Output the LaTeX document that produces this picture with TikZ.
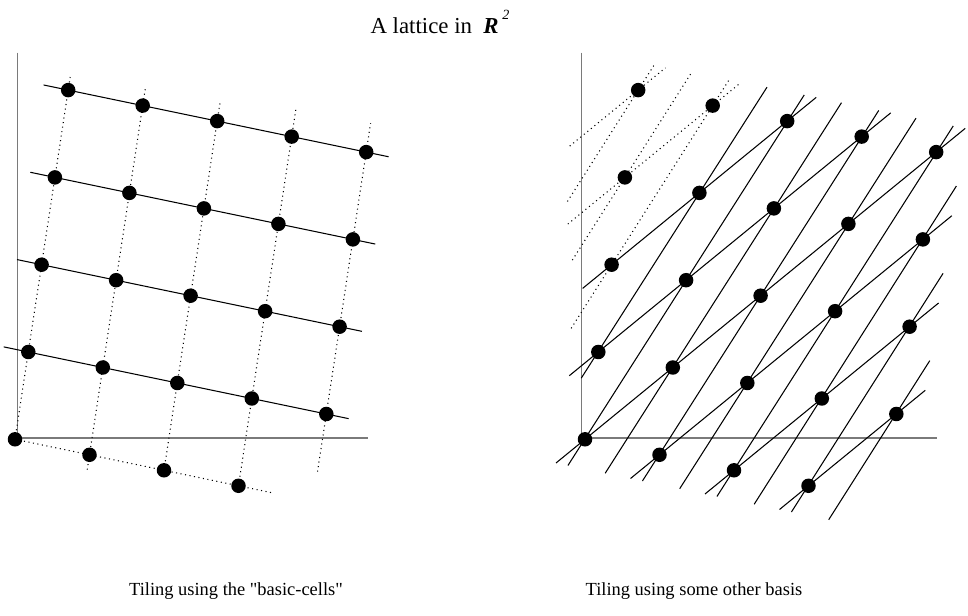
\documentclass[tikz,border=0pt]{standalone}
\usepackage{fontspec}
\setmainfont{Liberation Serif}
\usepackage{tikz}
\definecolor{latAxis}{HTML}{7A7A7A}
\tikzset{
  latpt/.style={
    circle,
    fill=black,
    inner sep=0pt,
    minimum size=0.29cm
  },
  latline/.style={line width=0.6pt, draw=black},
  latdots/.style={line width=0.6pt, draw=black, dotted},
  axisline/.style={line width=0.8pt, draw=latAxis},
  caption/.style={font=\fontsize{10.5}{12}\selectfont, inner sep=0pt},
  heading/.style={font=\fontsize{13}{15}\selectfont, inner sep=0pt}
}

\begin{document}
\begin{tikzpicture}
  \useasboundingbox (0,0) rectangle (19.36,12.32);
  % axes
  \draw[axisline] (0.346,11.266) -- (0.346,3.56) -- (7.366,3.56);
  \draw[axisline] (11.634,11.266) -- (11.634,3.56) -- (18.734,3.56);
  % left lattice, basic cells
  \begin{scope}[shift={(0.30,3.534)}, x={(1.49cm,-0.31cm)}, y={(0.266cm,1.746cm)}]
    \foreach \t in {1,...,4}
      \draw[latline] (-0.33,\t) -- (4.3,\t);
    \draw[latdots] (0,0) -- (3.45,0);
    \foreach \s/\lo/\hi in {0/0/4.15, 1/-0.17/4.22, 2/0/4.24, 3/0/4.34, 4/0.34/4.33}
      \draw[latdots] (\s,\lo) -- (\s,\hi);
    \foreach \n in {0,...,3}
      \node[latpt] (L-0-\n) at (\n,0) {};
    \foreach \m in {1,...,4}
      \foreach \n in {0,...,4}
        \node[latpt] (L-\m-\n) at (\n,\m) {};
  \end{scope}
  % right lattice, other basis
  \begin{scope}[shift={(11.70,3.534)}, x={(1.49cm,-0.31cm)}, y={(0.266cm,1.746cm)}]
    % along a+b
    \foreach \sa/\ta/\sb/\tb in {-0.33/-0.33/4.33/4.33, 0.67/-0.33/4.33/3.33,
        1.67/-0.33/4.33/2.33, 2.67/-0.33/4.33/1.33,
        -0.33/0.67/3.33/4.33, -0.33/1.67/2.33/4.33}
      \draw[latline] (\sa,\ta) -- (\sb,\tb);
    \foreach \sa/\ta/\sb/\tb in {-0.65/2.35/1.31/4.31, -0.78/3.22/0.31/4.31}
      \draw[latdots] (\sa,\ta) -- (\sb,\tb);
    % along a+2b
    \foreach \sa/\ta/\sb/\tb in {-0.17/-0.33/2.17/4.33, 0.33/-0.33/2.67/4.33,
        0.83/-0.33/3.17/4.33, 1.33/-0.33/3.67/4.33, 1.83/-0.33/4.17/4.33,
        2.33/-0.33/4.33/3.67, 2.83/-0.33/4.33/2.67, 3.33/-0.33/4.33/1.67,
        -0.17/0.67/1.67/4.33}
      \draw[latline] (\sa,\ta) -- (\sb,\tb);
    \foreach \sa/\ta/\sb/\tb in {-0.40/1.2/1.16/4.32, -0.52/1.96/0.66/4.32,
        -0.70/2.6/0.16/4.32}
      \draw[latdots] (\sa,\ta) -- (\sb,\tb);
    \foreach \n in {0,...,3}
      \node[latpt] (R-0-\n) at (\n,0) {};
    \foreach \m in {1,...,4}
      \foreach \n in {0,...,4}
        \node[latpt] (R-\m-\n) at (\n,\m) {};
  \end{scope}
  % texts
  \node[heading] (title) at (8.80,11.88) {A lattice in \ \textbf{\textit{R}}\,\raisebox{1.25ex}{\fontsize{8}{9}\selectfont\textit{2}}};
  \node[caption] (capL) at (4.72,0.50) {Tiling using the \textquotedbl basic-cells\textquotedbl};
  \node[caption] (capR) at (13.88,0.50) {Tiling using some other basis};
\end{tikzpicture}
\end{document}
